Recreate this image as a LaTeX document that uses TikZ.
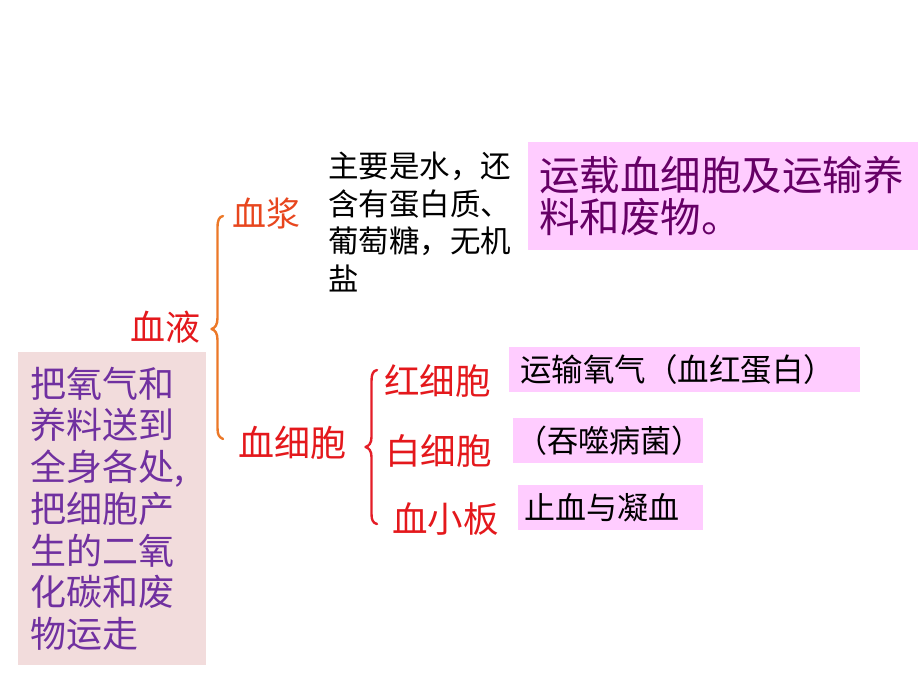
\documentclass[tikz,border=0pt]{standalone}
\usepackage{fontspec}
\newfontfamily\cjk{Noto Sans CJK SC}
\definecolor{plasmaC}{RGB}{232,70,30}
\definecolor{redC}{RGB}{228,24,28}
\definecolor{braceO}{RGB}{236,120,40}
\definecolor{braceR}{RGB}{228,30,40}
\definecolor{pinkF}{RGB}{255,204,255}
\definecolor{beigeF}{RGB}{242,220,220}
\definecolor{darkP}{RGB}{102,0,102}
\definecolor{violetT}{RGB}{112,48,160}
\tikzset{
  lbl/.style={inner sep=0pt, anchor=west, font=\cjk},
  pinkbox/.style={fill=pinkF, draw=none, inner ysep=0pt, align=left, anchor=north west, font=\cjk},
  bracestyle/.style={line width=2.4pt, line cap=round, line join=round}
}
\begin{document}
\begin{tikzpicture}[x=1pt,y=-1pt]
\useasboundingbox (0,0) rectangle (920,690);
\fill[white] (0,0) rectangle (920,690);

% labels
\node[lbl, text=redC, font=\cjk\fontsize{35}{35}\selectfont] (xueye) at (130,327) {血液};
\node[lbl, text=plasmaC, font=\cjk\fontsize{34}{34}\selectfont] (xuejiang) at (232,213) {血浆};
\node[lbl, text=redC, font=\cjk\fontsize{36}{36}\selectfont] (xuexibao) at (238,443) {血细胞};
\node[lbl, text=redC, font=\cjk\fontsize{35.5}{35.5}\selectfont] (hong) at (384,381) {红细胞};
\node[lbl, text=redC, font=\cjk\fontsize{35.5}{35.5}\selectfont] (bai) at (385,451) {白细胞};
\node[lbl, text=redC, font=\cjk\fontsize{35.5}{35.5}\selectfont] (xiaoban) at (392,519) {血小板};

% plasma description
\node[inner sep=0pt, anchor=north west, align=left, font=\cjk\fontsize{30.5}{37.5}\selectfont] (desc) at (328,152)
  {主要是水，还\\含有蛋白质、\\葡萄糖，无机\\盐};

% top right box
\node[pinkbox, text=darkP, minimum height=108pt, text width=368pt, inner xsep=11pt,
  font=\cjk\fontsize{40.5}{42.5}\selectfont] (func1) at (528,142)
  {运载血细胞及运输养\\料和废物。};

% left box
\node[fill=beigeF, inner ysep=0pt, inner xsep=12pt, text width=164pt, minimum height=313pt, align=left,
  anchor=north west, text=violetT, font=\cjk\fontsize{36}{41.7}\selectfont] (func2) at (18,352)
  {把氧气和\\养料送到\\全身各处,\\把细胞产\\生的二氧\\化碳和废\\物运走};

% small boxes
\node[pinkbox, minimum height=45pt, inner xsep=11pt, text width=329pt,
  font=\cjk\fontsize{31.5}{31.5}\selectfont] (b1) at (509,347) {运输氧气（血红蛋白）};
\node[pinkbox, minimum height=45pt, inner xsep=3pt, text width=184pt,
  font=\cjk\fontsize{31}{31}\selectfont] (b2) at (513,418) {（吞噬病菌）};
\node[pinkbox, minimum height=45pt, inner xsep=6pt, text width=173pt,
  font=\cjk\fontsize{31}{31}\selectfont] (b3) at (518,485) {止血与凝血};

% big brace (orange)
\draw[bracestyle, braceO]
  (223,216) .. controls (219,217) and (217.5,220) .. (217.5,228) -- (217.5,318)
  .. controls (217.5,325) and (215,328) .. (211.5,329)
  .. controls (215,330) and (217.5,333) .. (217.5,340) -- (217.5,428)
  .. controls (217.5,435) and (219,437) .. (223,439);

% small brace (red)
\draw[bracestyle, braceR]
  (377,370) .. controls (373,371) and (371.5,374) .. (371.5,381) -- (371.5,437)
  .. controls (371.5,443) and (369,446) .. (365.5,447)
  .. controls (369,448) and (371.5,451) .. (371.5,457) -- (371.5,514)
  .. controls (371.5,520) and (373,523) .. (377,524);
\end{tikzpicture}
\end{document}
